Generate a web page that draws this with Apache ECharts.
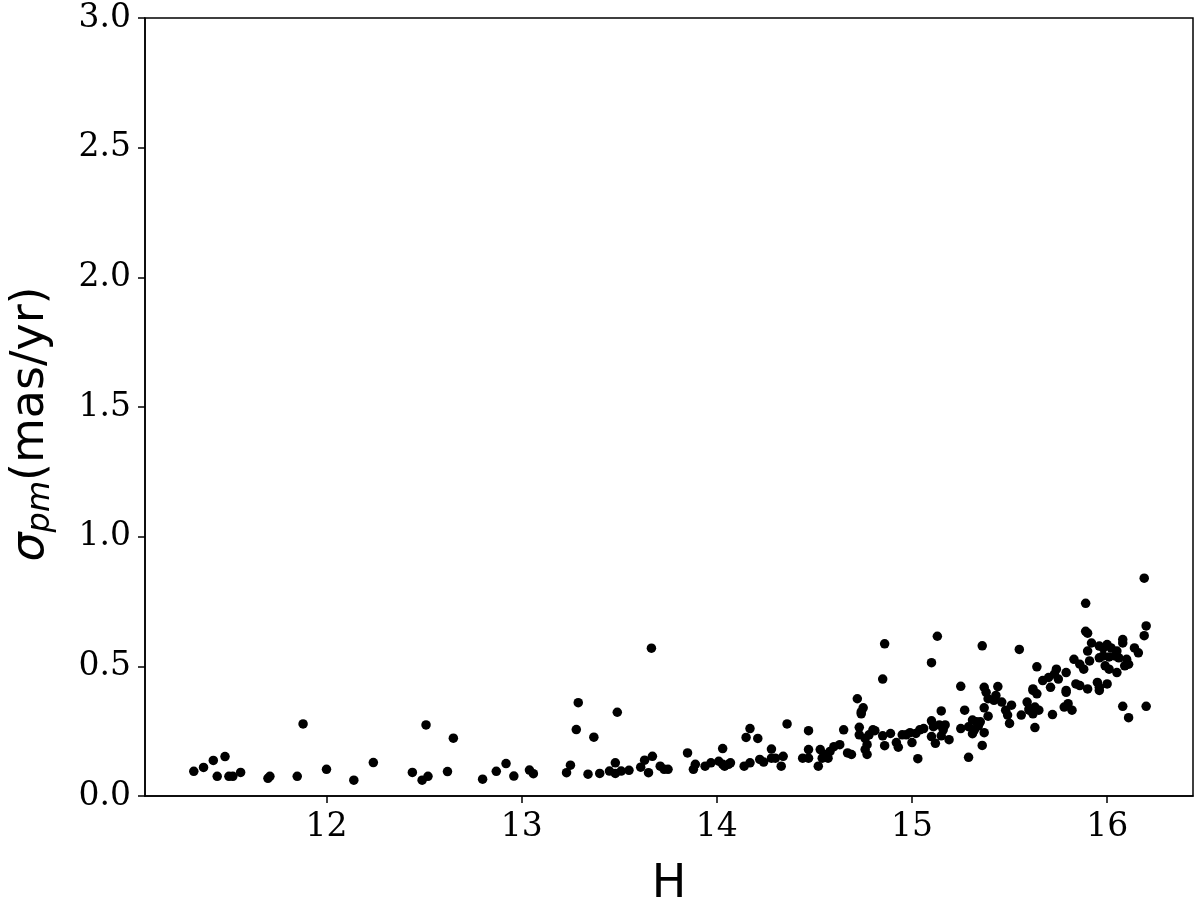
<!DOCTYPE html>
<html>
<head>
<meta charset="utf-8">
<script src="https://cdn.jsdelivr.net/npm/echarts@6/dist/echarts.min.js"></script>
<style>html,body{margin:0;padding:0;background:#fff;}#c{width:1200px;height:913px;}</style>
</head>
<body>
<div id="c"></div>
<script>
const hVals = [
11.32,11.37,11.42,11.48,11.44,11.50,11.52,11.56,11.70,11.71,11.85,11.88,12.00,12.14,12.24,12.44,12.49,12.52,12.51,
12.65,12.62,12.80,12.87,12.92,12.96,13.04,13.06,13.23,13.25,13.29,13.28,13.37,13.49,13.34,13.40,13.45,13.48,13.48,13.51,13.55,13.61,13.63,13.65,13.67,13.665,13.71,13.73,13.75,13.85,13.88,13.89,13.94,13.97,14.01,14.03,14.04,
14.03,14.06,14.07,14.14,14.17,14.15,14.17,14.21,14.22,14.24,14.28,14.28,14.30,14.33,14.34,14.36,14.44,14.47,14.47,14.47,14.52,14.53,14.54,14.55,14.57,14.58,14.60,14.63,14.65,14.67,14.69,
14.72,14.74,14.75,14.74,14.73,14.73,14.76,14.77,14.78,14.76,14.77,14.80,14.81,14.85,14.86,14.85,14.86,14.89,14.92,14.93,14.95,14.97,14.99,15.00,15.02,15.03,15.04,15.06,
15.10,15.10,15.12,15.11,15.14,15.15,15.16,15.17,15.19,15.10,15.13,15.15,15.25,15.25,15.27,15.29,15.29,
15.36,15.55,15.64,15.37,15.38,15.44,15.39,15.43,15.42,15.46,15.37,15.39,15.31,15.33,15.34,15.35,15.32,15.37,15.31,15.36,
15.48,15.49,15.50,15.51,15.56,15.59,15.60,15.62,15.63,15.64,15.63,
16.19,15.89,16.20,16.19,15.89,15.90,16.08,16.08,16.14,16.16,15.92,15.96,15.98,16.00,16.02,16.05,15.90,15.96,15.98,16.01,16.04,16.06,
15.83,15.86,15.88,15.91,15.99,16.01,16.05,16.10,16.09,16.11,15.67,15.70,15.73,15.74,15.75,15.79,15.71,15.79,15.79,15.84,15.86,15.90,15.95,15.96,16.00,15.96,
15.78,15.80,15.82,16.08,16.11,16.20,15.72,15.60,15.62,15.65,15.62
];
const sigmaVals = [
0.095,0.110,0.137,0.152,0.076,0.076,0.076,0.091,0.068,0.076,0.076,0.278,0.103,0.061,0.129,0.091,0.061,0.076,0.274,
0.223,0.094,0.065,0.095,0.125,0.077,0.100,0.086,0.090,0.119,0.360,0.256,0.227,0.323,0.084,0.087,0.096,0.128,0.087,0.096,0.099,0.111,0.138,0.090,0.153,0.570,0.115,0.103,0.103,0.166,0.103,0.122,0.115,0.128,0.134,0.183,0.115,
0.122,0.122,0.128,0.115,0.128,0.226,0.260,0.222,0.141,0.131,0.181,0.146,0.146,0.115,0.153,0.278,0.146,0.179,0.146,0.252,0.115,0.179,0.146,0.160,0.146,0.172,0.190,0.198,0.255,0.166,0.160,
0.375,0.324,0.340,0.317,0.265,0.236,0.222,0.198,0.236,0.179,0.160,0.255,0.252,0.451,0.587,0.232,0.194,0.241,0.206,0.188,0.236,0.236,0.244,0.206,0.241,0.144,0.255,0.260,
0.229,0.290,0.203,0.267,0.274,0.232,0.255,0.274,0.217,0.514,0.616,0.328,0.423,0.260,0.331,0.267,0.149,
0.579,0.565,0.498,0.419,0.400,0.422,0.375,0.388,0.369,0.362,0.340,0.308,0.293,0.286,0.270,0.286,0.255,0.244,0.240,0.195,
0.331,0.312,0.280,0.350,0.312,0.362,0.337,0.407,0.343,0.394,0.264,
0.840,0.743,0.656,0.618,0.635,0.628,0.603,0.590,0.571,0.552,0.590,0.578,0.571,0.584,0.571,0.559,0.559,0.533,0.540,0.536,0.540,0.533,
0.527,0.508,0.489,0.521,0.502,0.489,0.476,0.527,0.502,0.508,0.445,0.457,0.470,0.489,0.451,0.476,0.419,0.400,0.407,0.432,0.426,0.413,0.438,0.419,0.432,0.407,
0.343,0.356,0.331,0.346,0.302,0.346,0.314,0.331,0.317,0.331,0.413
];
const xTicks = [12, 13, 14, 15, 16];
const yTicks = [0.0, 0.5, 1.0, 1.5, 2.0, 2.5, 3.0];
const xTitle = 'H';

const points = hVals.map((h, i) => [h, sigmaVals[i]]);
const chart = echarts.init(document.getElementById('c'), null, {renderer: 'canvas'});
const tickFont = {fontFamily: 'DejaVu Serif', fontSize: 33, color: '#000'};
chart.setOption({
  animation: false,
  backgroundColor: '#fff',
  grid: {left: 142, right: 7, top: 18, bottom: 106, show: true, borderColor: '#000', borderWidth: 1.5, backgroundColor: 'transparent'},
  xAxis: {
    type: 'value', min: 11.07, max: 16.44,
    name: xTitle, nameLocation: 'middle', nameGap: 66,
    nameTextStyle: {fontFamily: 'DejaVu Sans', fontSize: 46, color: '#000'},
    axisLine: {show: true, onZero: false, lineStyle: {color: '#000', width: 1.5}},
    axisTick: {show: true, length: 7, lineStyle: {color: '#000', width: 1.5}, customValues: xTicks},
    axisLabel: Object.assign({margin: 15, customValues: xTicks, formatter: v => String(v)}, tickFont),
    splitLine: {show: false}
  },
  yAxis: {
    type: 'value', min: 0, max: 3, interval: 0.5,
    name: '{s|σ}{sub|pm}{n|(mas/yr)}', nameLocation: 'middle', nameGap: 88, nameRotate: 90,
    nameTextStyle: {
      padding: [0, 34, 0, 0],
      rich: {
        s: {fontFamily: 'DejaVu Sans', fontStyle: 'italic', fontSize: 46, color: '#000'},
        sub: {fontFamily: 'DejaVu Sans', fontStyle: 'italic', fontSize: 32, color: '#000', padding: [20, 0, 0, 0]},
        n: {fontFamily: 'DejaVu Sans', fontSize: 46, color: '#000'}
      }
    },
    axisLine: {show: true, lineStyle: {color: '#000', width: 1.5}},
    axisTick: {show: true, length: 7, lineStyle: {color: '#000', width: 1.5}},
    axisLabel: Object.assign({margin: 14, formatter: v => v.toFixed(1)}, tickFont),
    splitLine: {show: false}
  },
  series: [{
    type: 'scatter', data: points, symbol: 'circle', symbolSize: 9.5,
    itemStyle: {color: '#000', opacity: 1}
  }]
});
</script>
</body>
</html>
